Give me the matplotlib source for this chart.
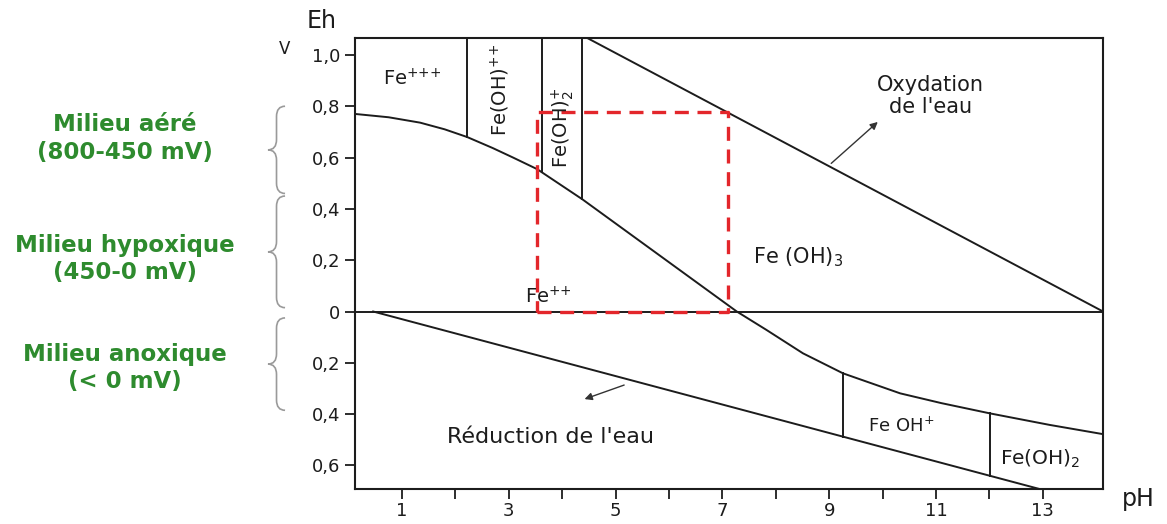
import numpy as np
import matplotlib
matplotlib.use('Agg')
import matplotlib.pyplot as plt
from matplotlib.path import Path
from matplotlib.patches import PathPatch

plt.rcParams['font.family'] = ['DejaVu Sans']

# limite Fe3+ / Fe2+ (courbe principale)
ph_fe = [0.12, 0.75, 1.34, 1.8, 2.22, 2.7, 3.08, 3.53, 4.38, 7.27, 7.82, 8.51,
         9.26, 10.33, 11.1, 12.01, 13.13, 14.13]
eh_fe = [0.77, 0.757, 0.736, 0.71, 0.68, 0.637, 0.60, 0.555, 0.437, 0.0, -0.071, -0.163,
         -0.241, -0.319, -0.357, -0.397, -0.442, -0.478]

# droites de l'eau
ph_oxyd = [4.46, 14.13]
eh_oxyd = [1.067, 0.0]
ph_reduc = [0.46, 12.98]
eh_reduc = [0.0, -0.694]

# limites verticales
ph_haut = [2.22, 3.62, 4.38]    # du haut jusqu'a la courbe
ph_bas = [9.26, 12.01]          # de la courbe a la droite de reduction

# cadre rouge
cadre_ph = [3.53, 7.11]
cadre_eh = [0.0, 0.776]

x_ticks = [1, 3, 5, 7, 9, 11, 13]
x_minor = [2, 4, 6, 8, 10, 12]
y_ticks = [1.0, 0.8, 0.6, 0.4, 0.2, 0.0, -0.2, -0.4, -0.6]
y_labels = ['1,0', '0,8', '0,6', '0,4', '0,2', '0', '0,2', '0,4', '0,6']

# accolades et milieux
acc_haut = [0.80, 0.45, -0.025]
acc_bas = [0.46, 0.015, -0.385]
milieux = ['Milieu aéré\n(800-450 mV)', 'Milieu hypoxique\n(450-0 mV)', 'Milieu anoxique\n(< 0 mV)']
milieux_y = [0.674, 0.205, -0.22]

noir = '#1c1c1c'
vert = '#2e8b2e'

fig = plt.figure(figsize=(11.67, 5.24), dpi=100)
ax = fig.add_axes([0.3042, 0.0662, 0.6410, 0.8618])
ax.set_xlim(0.12, 14.13)
ax.set_ylim(-0.693, 1.067)

ax.plot(ph_fe, eh_fe, color=noir, lw=1.4)
ax.plot(ph_oxyd, eh_oxyd, color=noir, lw=1.4)
ax.plot(ph_reduc, eh_reduc, color=noir, lw=1.4)
ax.axhline(0, color=noir, lw=1.4)

for p in ph_haut:
    ax.plot([p, p], [1.067, np.interp(p, ph_fe, eh_fe)], color=noir, lw=1.4)
for p in ph_bas:
    ax.plot([p, p], [np.interp(p, ph_fe, eh_fe), np.interp(p, ph_reduc, eh_reduc)], color=noir, lw=1.4)

ax.plot([cadre_ph[0], cadre_ph[1], cadre_ph[1], cadre_ph[0], cadre_ph[0]],
        [cadre_eh[0], cadre_eh[0], cadre_eh[1], cadre_eh[1], cadre_eh[0]],
        color='#e3262b', lw=2.4, ls=(0, (4.2, 2.6)))

# especes
fs = 14
ax.text(0.64, 0.883, r'Fe$^{{+}{+}{+}}$', fontsize=fs, color=noir)
ax.text(2.84, 0.864, r'Fe(OH)$^{{+}{+}}$', fontsize=fs, color=noir, rotation=90, ha='center', va='center')
ax.text(4.0, 0.715, r'Fe(OH)$_2^{+}$', fontsize=fs, color=noir, rotation=90, ha='center', va='center')
ax.text(7.57, 0.189, r'Fe (OH)$_3$', fontsize=15, color=noir)
ax.text(3.30, 0.033, r'Fe$^{{+}{+}}$', fontsize=fs, color=noir)
ax.text(9.73, -0.47, r'Fe OH$^{+}$', fontsize=13, color=noir)
ax.text(12.2, -0.598, r'Fe(OH)$_2$', fontsize=14.5, color=noir)
ax.text(10.9, 0.84, "Oxydation\nde l'eau", fontsize=15, color=noir, ha='center', va='center', linespacing=1.15)
ax.text(3.79, -0.489, "Réduction de l'eau", fontsize=16, color=noir, ha='center', va='center')

ax.annotate('', xy=(9.95, 0.746), xytext=(9.0, 0.57),
            arrowprops=dict(arrowstyle='-|>', color='#333333', lw=1.0, mutation_scale=11))
ax.annotate('', xy=(4.37, -0.345), xytext=(5.21, -0.283),
            arrowprops=dict(arrowstyle='-|>', color='#333333', lw=1.0, mutation_scale=11))

# axes
ax.set_xticks(x_ticks)
ax.set_xticks(x_minor, minor=True)
ax.set_yticks(y_ticks)
ax.set_yticklabels(y_labels)
ax.tick_params(axis='both', which='both', direction='out', length=7, width=1.3,
               color=noir, labelsize=13, labelcolor=noir)
ax.tick_params(axis='x', pad=2)
for s in ax.spines.values():
    s.set_linewidth(1.5)
    s.set_color(noir)

fig.text(0.276, 0.960, 'Eh', fontsize=17, color=noir, ha='center', va='center')
fig.text(0.2442, 0.9065, 'V', fontsize=12, color=noir, ha='center', va='center')
fig.text(0.975, 0.047, 'pH', fontsize=17, color=noir, ha='center', va='center')

# accolades
def accolade(y_bas, y_haut, x_pointe=-1.51, x_bout=-1.19, r=0.04):
    ym = (y_bas + y_haut) / 2
    xs = (x_pointe + x_bout) / 2
    verts = [(x_bout, y_haut), (xs, y_haut), (xs, y_haut - r),
             (xs, ym + r), (xs, ym), (x_pointe, ym),
             (xs, ym), (xs, ym - r),
             (xs, y_bas + r), (xs, y_bas), (x_bout, y_bas)]
    codes = [Path.MOVETO, Path.CURVE3, Path.CURVE3,
             Path.LINETO, Path.CURVE3, Path.CURVE3,
             Path.CURVE3, Path.CURVE3,
             Path.LINETO, Path.CURVE3, Path.CURVE3]
    ax.add_patch(PathPatch(Path(verts, codes), fill=False, ec='#9a9a9a', lw=1.2, clip_on=False))

for h, b in zip(acc_haut, acc_bas):
    accolade(b, h)

for txt, y in zip(milieux, milieux_y):
    ax.text(-4.19, y, txt, fontsize=16.5, fontweight='bold', color=vert,
            ha='center', va='center', linespacing=1.25, clip_on=False)

fig.savefig('out.png', dpi=100)
